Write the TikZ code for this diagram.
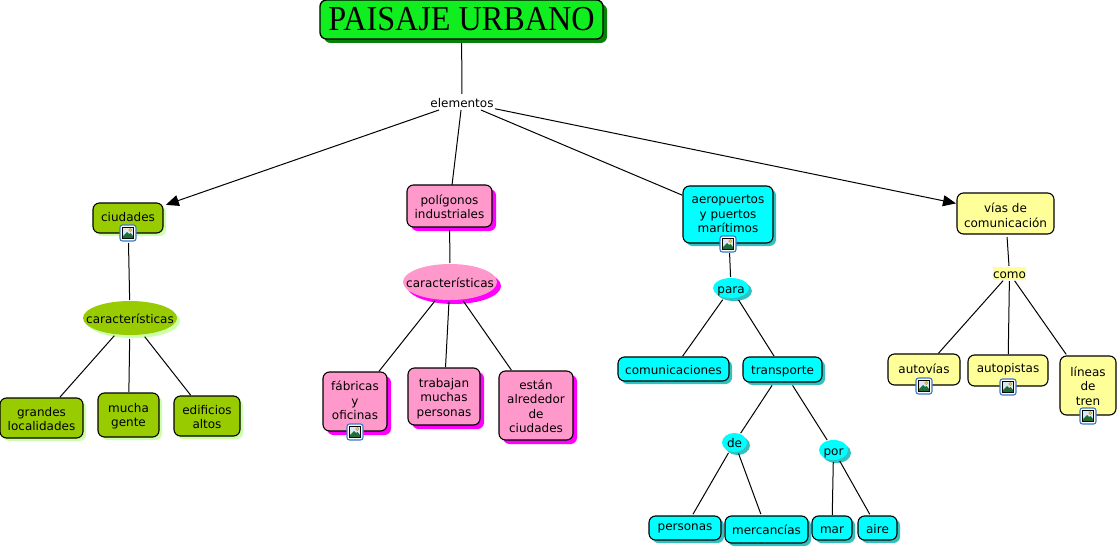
\documentclass[tikz,border=0pt]{standalone}
\usepackage{fontspec}
\setmainfont{DejaVu Sans}
\newfontfamily\titlefont{Liberation Serif}
\usetikzlibrary{shapes.geometric,shadows,arrows.meta}
\definecolor{titlegreen}{HTML}{10EE20}
\definecolor{titleshadow}{HTML}{0A7F0A}
\definecolor{olive}{HTML}{99CC00}
\definecolor{oliveshadow}{HTML}{CCFFAA}
\definecolor{pinkfill}{HTML}{FF99CC}
\definecolor{pinkshadow}{HTML}{FF00FF}
\definecolor{cyanfill}{HTML}{00FFFF}
\definecolor{cyanshadow}{HTML}{33C0C0}
\definecolor{yellowfill}{HTML}{FFFF99}
\definecolor{iconblue}{HTML}{3C78C8}
\definecolor{iconsky}{HTML}{DCE6F5}
\definecolor{iconhill}{HTML}{1E6E3C}
\definecolor{iconsun}{HTML}{F0D060}
\tikzset{
  every node/.style={inner sep=0pt,outer sep=0pt,font=\fontsize{12}{14.5}\selectfont},
  cmap/.style={rectangle,draw=black,line width=1.1pt,rounded corners=6.5pt},
  cmapell/.style={ellipse,draw=none},
  shadowed/.style 2 args={general shadow={fill=#1,shadow xshift=#2pt,shadow yshift=-#2pt}},
  olivebox/.style={cmap,fill=olive,shadowed={oliveshadow}{3}},
  pinkbox/.style={cmap,fill=pinkfill,shadowed={pinkshadow}{4}},
  cyanbox/.style={cmap,fill=cyanfill,shadowed={cyanshadow}{3}},
  yellowbox/.style={cmap,fill=yellowfill},
  oliveell/.style={cmapell,fill=olive,shadowed={oliveshadow}{3}},
  pinkell/.style={cmapell,fill=pinkfill,shadowed={pinkshadow}{4}},
  cyanell/.style={cmapell,fill=cyanfill,shadowed={cyanshadow}{3}},
  yellowlab/.style={rectangle,fill=yellowfill},
  plainlab/.style={rectangle},
  titlebox/.style={cmap,fill=titlegreen,shadowed={titleshadow}{4},line width=1.3pt},
  link/.style={draw=black,line width=1pt,shorten <=#1},
  link/.default=3pt,
  arrowlink/.style={draw=black,line width=1pt,-{Triangle[length=13pt,width=11pt]}}
}
% style, name, x0, y0, x1, y1, upward text offset, text
\newcommand\cnode[8]{%
  \node[#1,minimum width={(#5-#3)*1pt},minimum height={(#6-#4)*1pt}] (#2)
    at ({(#3+#5)/2},{(#4+#6)/2})
    {\makebox[0pt]{\smash{\raisebox{\dimexpr #7pt-5.5pt\relax}{\begin{tabular}{@{}c@{}}#8\end{tabular}}}}};%
}
\newcommand\picicon[2]{%
  \begin{scope}[shift={(#1,#2)}]
    \fill[white,draw=iconblue,line width=1.1pt,rounded corners=2.5pt] (-8,-8) rectangle (8,8);
    \fill[iconsky,draw=black,line width=0.9pt] (-5.5,-5.5) rectangle (5.5,5.5);
    \fill[iconhill] (-5,5) -- (-5,3) -- (-1,-1) -- (1,1) -- (2.5,0) -- (5,3) -- (5,5) -- cycle;
    \fill[iconsun,draw=iconsun!70!black,line width=0.3pt] (2.2,-3) circle (1.6);
  \end{scope}%
}
\begin{document}
\begin{tikzpicture}[x=1pt,y=-1pt]
\useasboundingbox[fill=white] (0,0) rectangle (1118,548);
% title and linking phrase
\node[titlebox,minimum width=283pt,minimum height=39pt] (title) at (461.5,19.5)
  {\makebox[0pt]{\titlefont\fontsize{35}{35}\selectfont\scalebox{0.92}[1]{PAISAJE URBANO}}};
\cnode{plainlab}{elem}{429}{94}{495}{110}{0}{elementos}
% ciudades branch
\cnode{olivebox}{ciud}{93}{203}{163}{233}{2}{ciudades}
\cnode{oliveell}{carA}{83}{301}{177}{335}{0}{características}
\cnode{olivebox}{grandes}{0}{398}{83}{438}{0}{grandes\\localidades}
\cnode{olivebox}{mucha}{98}{393}{159}{437}{1}{mucha\\gente}
\cnode{olivebox}{edif}{174}{396}{240}{436}{0}{edificios\\altos}
% poligonos branch
\cnode{pinkbox}{polig}{407}{185}{492}{227}{0}{polígonos\\industriales}
\cnode{pinkell}{carB}{403}{264}{497}{300}{0}{características}
\cnode{pinkbox}{fabr}{323}{372}{387}{431}{1.5}{fábricas\\y\\oficinas}
\cnode{pinkbox}{trab}{408}{368}{480}{425}{0}{trabajan\\muchas\\personas}
\cnode{pinkbox}{estan}{499}{371}{573}{440}{0}{están\\alrededor\\de\\ciudades}
% aeropuertos branch
\cnode{cyanbox}{aero}{683}{186}{773}{243}{1.5}{aeropuertos\\y puertos\\marítimos}
\cnode{cyanell}{para}{713}{278}{749}{298}{0}{para}
\cnode{cyanbox}{comu}{618}{357}{729}{381}{0}{comunicaciones}
\cnode{cyanbox}{trans}{743}{357}{822}{382}{0}{transporte}
\cnode{cyanell}{de}{722}{433}{747}{452}{0}{de}
\cnode{cyanell}{por}{819}{440}{848}{460}{0}{por}
\cnode{cyanbox}{pers}{649}{516}{721}{540}{2.5}{personas}
\cnode{cyanbox}{merc}{725}{516}{808}{543}{0}{mercancías}
\cnode{cyanbox}{mar}{812}{516}{852}{540}{0}{mar}
\cnode{cyanbox}{aire}{858}{516}{897}{540}{0}{aire}
% vias branch
\cnode{yellowbox}{vias}{957}{193}{1054}{234}{-1}{vías de\\comunicación}
\cnode{yellowlab}{como}{993}{267}{1026}{280}{0}{como}
\cnode{yellowbox}{autov}{888}{354}{960}{385}{1.5}{autovías}
\cnode{yellowbox}{autop}{968}{355}{1048}{386}{3}{autopistas}
\cnode{yellowbox}{linea}{1060}{356}{1116}{415}{0}{líneas\\de\\tren}
% connectors
\draw[link=4pt,shorten >=0pt] (title) -- (elem);
\draw[arrowlink,shorten >=3pt] (elem) -- (ciud);
\draw[link=0pt] (elem) -- (polig);
\draw[link=0pt,shorten >=1pt] (elem) -- (aero);
\draw[arrowlink,shorten >=1pt] (elem) -- (vias);
\draw[link=10pt,shorten >=1pt] (ciud) -- (carA);
\draw[link=2pt,shorten >=1pt] (carA) -- (grandes);
\draw[link=4pt,shorten >=1pt] (carA) -- (mucha);
\draw[link=3pt,shorten >=1pt] (carA) -- (edif);
\draw[link=3pt,shorten >=1pt] (polig) -- (carB);
\draw[link=2pt,shorten >=1pt] (carB) -- (fabr);
\draw[link=2pt,shorten >=1pt] (carB) -- (trab);
\draw[link=2pt,shorten >=1pt] (carB) -- (estan);
\draw[link=10pt,shorten >=1pt] (aero) -- (para);
\draw[link=3pt,shorten >=1pt] (para) -- (comu);
\draw[link=3pt,shorten >=1pt] (para) -- (trans);
\draw[link=4pt,shorten >=1pt] (trans) -- (de);
\draw[link=4pt,shorten >=1pt] (trans) -- (por);
\draw[link=2pt,shorten >=2pt] (de) -- (pers);
\draw[link=2pt,shorten >=2pt] (de) -- (merc);
\draw[link=2pt,shorten >=1pt] (por) -- (mar);
\draw[link=2pt,shorten >=2pt] (por) -- (aire);
\draw[link=3pt,shorten >=1pt] (vias) -- (como);
\draw[link=1pt,shorten >=1pt] (como) -- (autov);
\draw[link=1pt,shorten >=1pt] (como) -- (autop);
\draw[link=1pt,shorten >=2pt] (como) -- (linea);
% image icons
\picicon{128}{233}
\picicon{355}{432}
\picicon{728}{244}
\picicon{924}{386}
\picicon{1008}{387}
\picicon{1088}{416}
\end{tikzpicture}
\end{document}
